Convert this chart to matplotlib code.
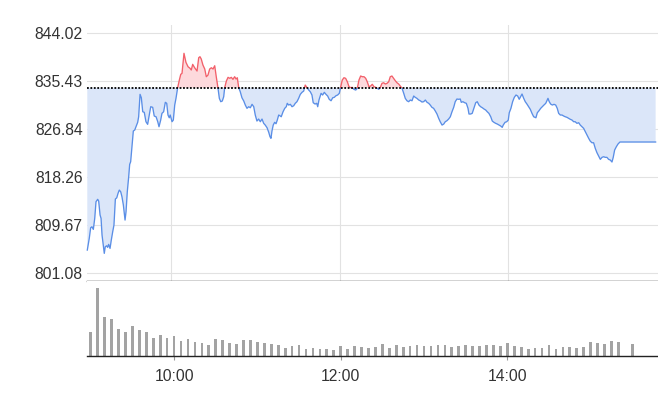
import matplotlib
matplotlib.use("Agg")
import matplotlib.pyplot as plt
from matplotlib.patches import Rectangle
import numpy as np

plt.rcParams['font.family'] = ['Liberation Sans', 'DejaVu Sans']

# ---------------- data ----------------
prev_close = 834.25
y_ticks = [801.08, 809.67, 818.26, 826.84, 835.43, 844.02]
x_tick_labels = ["10:00", "12:00", "14:00"]

# price line: minutes after 09:00 and index level
minutes_from_open = [
    0.0, 1.4, 2.4, 3.3, 4.3, 5.3, 6.2, 7.4, 8.1, 9.1, 9.8, 10.5, 11.4, 12.1, 12.8, 13.8, 14.5, 15.2, 16.2, 17.1,
    18.1, 19.0, 20.0, 21.0, 21.9, 22.8, 23.8, 24.7, 25.7, 26.9, 27.6, 28.5, 29.5, 30.2, 30.9, 31.9, 32.8, 33.8,
    34.7, 35.9, 36.6, 37.6, 38.5, 39.5, 40.6, 41.8, 43.0, 44.2, 45.2, 46.6, 47.7, 49.0, 50.2, 51.1, 52.3, 53.2,
    54.4, 55.6, 56.6, 57.5, 58.4, 59.1, 60.4, 61.3, 62.3, 63.2, 64.4, 65.6, 66.6, 67.5, 68.9, 70.3, 71.8, 73.2,
    74.1, 75.1, 76.5, 78.2, 79.4, 80.3,
    81.2, 82.4, 83.7, 84.8, 86.0, 87.2, 88.4, 89.6, 90.8, 91.9, 93.1, 94.1, 95.1, 96.2, 97.2, 97.9, 99.1, 100.3,
    101.5, 102.6, 103.8, 105.0, 106.0, 106.9, 107.9, 109.0, 110.2, 111.5, 112.6, 113.8, 115.0, 116.2, 117.4,
    118.6, 119.7, 120.9, 122.1, 123.3, 124.5, 125.7, 126.8, 128.1, 129.3, 130.2, 130.9, 131.6, 132.5, 133.5,
    134.5, 135.4, 136.4, 137.3, 138.2, 139.5, 140.7, 141.8, 142.5, 143.5, 144.7, 145.9, 147.1, 148.2, 149.4,
    150.6, 151.8, 153.0, 154.2, 155.3, 156.6, 157.8, 158.9, 160.1,
    161.0, 162.3, 163.5, 164.2, 165.1, 166.6, 167.7, 168.9, 170.1, 171.3, 172.4, 173.7, 174.9, 176.0, 177.2,
    178.4, 179.6, 180.6, 181.7, 182.9, 184.1, 185.3, 186.5, 187.7, 188.8, 190.0, 191.3, 192.4, 193.6, 194.8,
    196.0, 197.2, 198.4, 199.5, 200.7, 201.9, 203.1, 204.3, 205.5, 206.7, 207.7, 208.8, 210.0, 211.2, 212.4,
    213.6, 214.8, 215.9, 217.1, 218.3, 219.5, 220.7, 221.9, 223.0, 224.3, 225.5, 226.6, 227.8, 229.0, 230.2,
    231.4, 232.6, 233.7, 234.9, 236.2, 237.3, 238.5,
    239.7, 240.9, 242.1, 243.3, 244.4, 245.6, 246.8, 248.0, 249.2, 250.4, 251.5, 252.8, 254.0, 255.1, 256.3,
    257.5, 258.7, 259.9, 261.1, 262.2, 263.4, 264.6, 265.8, 266.5, 267.7, 268.9, 270.1, 271.3, 272.0, 273.2,
    274.3, 275.5, 276.8, 277.9, 279.1, 280.3, 281.5, 282.7, 283.9, 285.0, 286.2, 287.5, 288.6, 289.8, 291.0,
    292.2, 293.4, 294.6, 295.7, 296.4, 297.7, 298.9, 300.0, 300.7, 301.9, 303.1, 304.3, 305.5, 306.7, 307.8,
    309.0, 309.8, 311.0, 312.1, 313.3, 314.5, 315.7, 316.9, 318.1, 319.7,
    320.7, 321.9, 323.1, 324.2, 325.4, 326.7, 327.4, 328.3, 329.2, 330.2, 331.4, 332.6, 333.8, 334.9, 335.9,
    337.1, 338.3, 339.5, 340.6, 341.8, 343.0, 344.2, 345.4, 346.6, 347.7, 348.9, 350.2, 351.3, 352.5, 353.7,
    354.9, 356.1, 357.3, 358.4, 359.6, 360.8, 362.0, 363.2, 364.4, 365.6, 366.8, 368.0, 369.1, 370.3, 371.5,
    372.7, 373.9, 374.8, 375.8, 377.0, 378.2, 379.6, 390.0, 405.0,
]
price = [
    805.14, 807.24, 809.14, 809.32, 808.85, 810.83, 813.81, 814.24, 813.93, 811.42, 810.83, 807.83, 806.04,
    804.55, 805.73, 805.91, 805.62, 806.16, 805.44, 806.93, 808.42, 809.62, 814.29, 814.52, 815.31, 815.90,
    815.60, 814.70, 813.21, 810.52, 812.01, 815.60, 818.29, 820.51, 820.98, 823.98, 826.49, 826.67, 827.26,
    828.05, 829.05, 833.07, 832.46, 829.95, 829.84, 828.16, 827.69, 829.36, 830.85, 830.74, 829.18, 829.05,
    828.16, 827.26, 828.46, 829.66, 829.95, 831.64, 831.46, 829.36, 828.87, 829.36, 828.16, 828.46, 831.15,
    832.35, 834.26, 835.64, 836.66, 836.84, 840.43, 838.81, 838.02, 837.74, 837.43, 838.45, 837.84, 837.25,
    839.64, 839.82,
    839.41, 838.33, 837.61, 836.23, 836.53, 837.61, 837.84, 837.61, 838.20, 836.23, 834.26, 832.35, 831.75,
    831.87, 832.64, 834.26, 835.46, 836.12, 835.94, 836.12, 835.76, 836.23, 835.82, 836.05, 834.26, 833.54,
    832.46, 831.87, 831.15, 830.56, 830.85, 830.67, 831.28, 830.85, 829.36, 828.28, 828.64, 828.16, 828.64,
    827.87, 827.56, 827.08, 826.26, 825.47, 825.18, 826.49, 827.56, 828.05, 827.80, 828.46, 829.36, 829.23,
    829.05, 829.95, 830.56, 830.85, 831.46, 831.15, 831.28, 830.85, 831.03, 831.46, 831.75, 832.35, 833.07,
    833.43, 833.66, 834.74, 834.26, 833.84, 833.54, 832.95,
    831.57, 831.33, 831.46, 830.85, 832.05, 833.25, 832.95, 833.43, 833.07, 832.77, 832.18, 831.92, 832.46,
    832.53, 832.82, 832.95, 833.25, 834.44, 835.64, 836.05, 835.94, 835.33, 834.44, 834.26, 834.33, 833.97,
    833.84, 834.15, 835.64, 836.36, 836.23, 836.23, 835.94, 835.33, 834.44, 834.56, 834.87, 834.44, 834.33,
    834.15, 833.97, 834.33, 835.05, 835.15, 834.92, 835.05, 835.33, 836.23, 836.36, 835.94, 835.51, 835.15,
    834.92, 834.56, 834.15, 833.25, 832.35, 831.92, 831.75, 832.05, 831.92, 832.77, 832.53, 832.35, 832.05,
    831.92, 831.69,
    831.75, 832.05, 831.64, 831.46, 831.15, 830.74, 830.56, 830.08, 829.54, 828.77, 828.16, 827.56, 827.74,
    828.16, 828.34, 828.64, 829.05, 829.95, 830.74, 831.75, 832.23, 832.18, 832.23, 831.64, 831.75, 831.57,
    831.46, 830.56, 829.54, 829.54, 829.66, 830.56, 831.57, 831.75, 831.15, 830.85, 830.67, 830.44, 830.26,
    829.95, 829.66, 829.05, 828.28, 828.05, 827.87, 827.74, 827.56, 827.39, 827.15, 827.56, 828.05, 828.16,
    828.46, 829.77, 830.56, 831.75, 832.53, 832.95, 832.77, 832.18, 832.77, 833.13, 832.35, 831.75, 831.33,
    830.85, 830.38, 829.66, 829.05, 828.87,
    829.77, 830.13, 830.56, 830.85, 831.15, 831.46, 831.87, 832.35, 831.75, 831.33, 831.15, 831.28, 831.15,
    830.56, 829.66, 829.36, 829.36, 829.18, 829.05, 828.95, 828.77, 828.59, 828.46, 828.16, 828.16, 827.87,
    827.98, 827.56, 827.26, 826.97, 826.36, 825.77, 825.18, 824.69, 824.39, 824.39, 823.38, 822.60, 822.00,
    821.41, 821.77, 821.88, 821.77, 821.77, 821.41, 821.29, 820.93, 821.77, 823.08, 823.67, 824.16, 824.52,
    824.52, 824.52,
]

# 5-minute volume bars (relative units)
volume_times = [
    "09:00", "09:05", "09:10", "09:15", "09:20", "09:25", "09:30", "09:35", "09:40", "09:45", "09:50", "09:55",
    "10:00", "10:05", "10:10", "10:15", "10:20", "10:25", "10:30", "10:35", "10:40", "10:45", "10:50", "10:55",
    "11:00", "11:05", "11:10", "11:15", "11:20", "11:25", "11:30", "11:35", "11:40", "11:45", "11:50", "11:55",
    "12:00", "12:05", "12:10", "12:15", "12:20", "12:25", "12:30", "12:35", "12:40", "12:45", "12:50", "12:55",
    "13:00", "13:05", "13:10", "13:15", "13:20", "13:25", "13:30", "13:35", "13:40", "13:45", "13:50", "13:55",
    "14:00", "14:05", "14:10", "14:15", "14:20", "14:25", "14:30", "14:35", "14:40", "14:45", "14:50", "14:55",
    "15:00", "15:05", "15:10", "15:15", "15:20", "15:25", "15:30",
]
volume = [
    73, 205, 118, 112, 82, 73, 91, 79, 73, 55, 64, 55,
    61, 46, 52, 43, 40, 34, 52, 49, 40, 37, 49, 49,
    43, 40, 37, 34, 25, 31, 34, 22, 25, 22, 22, 19,
    31, 22, 31, 28, 25, 28, 37, 25, 34, 28, 31, 34,
    31, 31, 34, 34, 28, 31, 34, 31, 31, 34, 34, 31,
    40, 31, 28, 22, 25, 25, 34, 22, 28, 28, 25, 28,
    43, 40, 37, 46, 43, 0, 37,
]


def to_minutes(hhmm):
    h, m = hhmm.split(":")
    return (int(h) - 9) * 60 + int(m)


# ---------------- figure ----------------
W, H = 658, 408
fig = plt.figure(figsize=(W / 100, H / 100), dpi=100)
left_px, top_px, bot_px, vol_bot_px = 87.3, 24.7, 281.3, 356.3
axp = fig.add_axes([left_px / W, (H - bot_px) / H, (W - left_px) / W, (bot_px - top_px) / H])
axv = fig.add_axes([left_px / W, (H - vol_bot_px) / H, (W - left_px) / W, (vol_bot_px - bot_px) / H])

t = np.array(minutes_from_open)
p = np.array(price)

axp.set_xlim(0, 406.7)
axp.set_ylim(799.54, 845.56)

grid_c = '#e2e2e2'
for yv in y_ticks:
    axp.axhline(yv, color=grid_c, lw=0.8, zorder=0)
for lab in x_tick_labels:
    axp.axvline(to_minutes(lab), color=grid_c, lw=0.8, zorder=0)

axp.fill_between(t, p, prev_close, where=p <= prev_close, interpolate=True,
                 color='#dbe6f9', lw=0, zorder=1)
axp.fill_between(t, p, prev_close, where=p >= prev_close, interpolate=True,
                 color='#fdd9dc', lw=0, zorder=1)

line_up, = axp.plot(t, p, color='#f2606a', lw=0.95, zorder=2, solid_joinstyle='round')
line_dn, = axp.plot(t, p, color='#5a8ee6', lw=0.95, zorder=2, solid_joinstyle='round')
line_up.set_clip_path(Rectangle((-50, prev_close), 600, 100, transform=axp.transData))
line_dn.set_clip_path(Rectangle((-50, prev_close - 100), 600, 100, transform=axp.transData))

axp.axhline(prev_close, color='#000000', lw=1.3, ls=(0, (1, 0.9)), zorder=3)

for s in ['top', 'right', 'left']:
    axp.spines[s].set_visible(False)
axp.spines['bottom'].set_color('#222222')
axp.spines['bottom'].set_linewidth(1.0)
axp.spines['bottom'].set_zorder(4)
axp.set_xticks([])
axp.set_yticks(y_ticks)
axp.set_yticklabels([f"{v:.2f}" for v in y_ticks])
axp.tick_params(axis='y', length=0, pad=3.3, labelsize=11.3, labelcolor='#333333')

# volume pane (band positions, one band per 5 minutes)
vol_idx = np.array([to_minutes(s) / 5 for s in volume_times])
axv.bar(vol_idx, volume, width=0.39, color='#a3a3a3', lw=0)
axv.set_xlim(-0.5, 81.7)
axv.set_ylim(0, 225)
for s in ['top', 'right', 'left']:
    axv.spines[s].set_visible(False)
axv.spines['bottom'].set_color('#222222')
axv.spines['bottom'].set_linewidth(1.0)
axv.set_yticks([])
axv.set_xticks([to_minutes(s) / 5 for s in x_tick_labels])
axv.set_xticklabels(x_tick_labels)
axv.tick_params(axis='x', length=2.9, width=0.8, color='#999999', pad=6.2,
                labelsize=11.3, labelcolor='#333333')

fig.savefig('out.png', dpi=100)
